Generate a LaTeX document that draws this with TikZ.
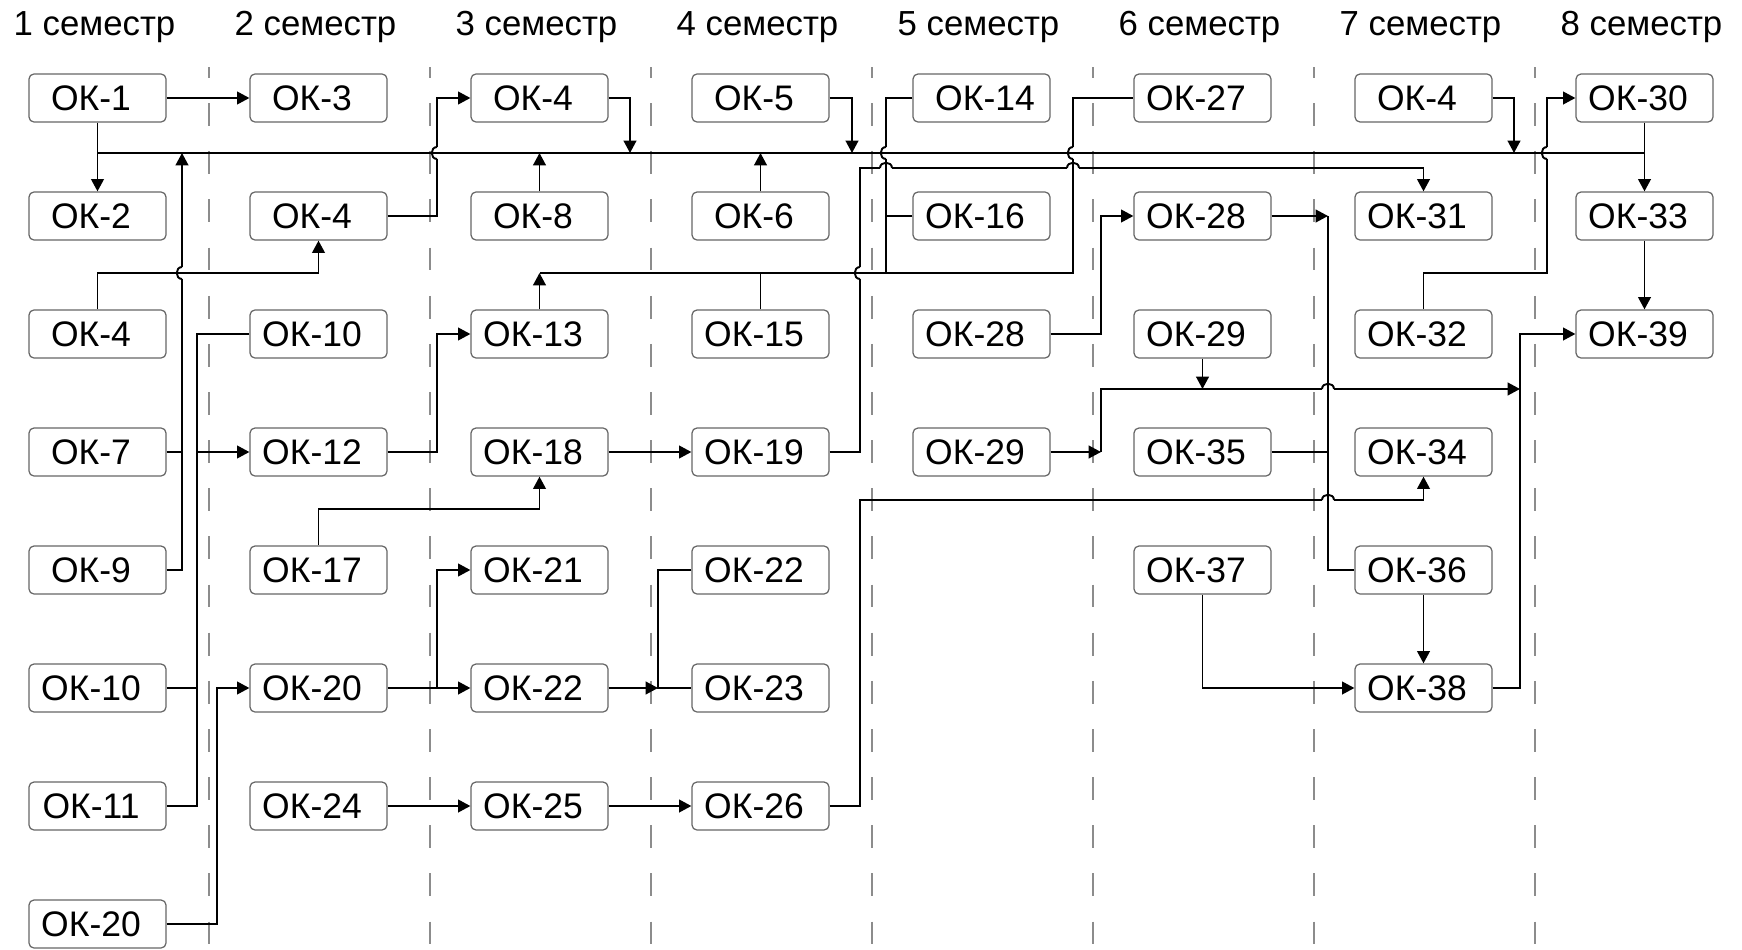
\documentclass[tikz,border=0pt]{standalone}
\usepackage{fontspec}
\setmainfont{Liberation Sans}
\usetikzlibrary{arrows.meta}

\tikzset{
  ok/.style={draw=black!60, line width=0.7pt, rounded corners=2.8pt,
    minimum width=2.74cm, minimum height=0.96cm, inner sep=0pt,
    font=\fontsize{20.2}{22}\selectfont, execute at end node={\hspace{7.4pt}}},
  link/.style={line width=1.1pt, black},
  arr/.style={link, -{Triangle[length=7pt,width=7.2pt]}},
  sep/.style={black!45, line width=1.1pt, dash pattern=on 13pt off 14.4pt, dash phase=6.8pt},
  sem/.style={font=\fontsize{19.8}{22}\selectfont, anchor=base},
}

% line jump on a vertical link (bulges to the left)
\newcommand{\vjump}[2]{%
  \draw[white, line width=2.4pt] (#1,#2-6) -- (#1,#2+6);
  \draw[link] (#1-4,#2) -- (#1+4,#2);
  \draw[link] (#1,#2+6) .. controls (#1-7,#2+6) and (#1-7,#2-6) .. (#1,#2-6);
}
% line jump on a horizontal link (bulges upwards)
\newcommand{\hjump}[2]{%
  \draw[white, line width=2.4pt] (#1-6,#2) -- (#1+6,#2);
  \draw[link] (#1,#2-4) -- (#1,#2+4);
  \draw[link] (#1-6,#2) .. controls (#1-6,#2-7) and (#1+6,#2-7) .. (#1+6,#2);
}

\begin{document}
\begin{tikzpicture}[x=0.02cm, y=-0.02cm]
\useasboundingbox (0,0) rectangle (1742,950);

% semester separators
\foreach \k in {0,...,6}
  \draw[sep] (209+221*\k,67) -- (209+221*\k,950);

% semester headings
\foreach \k in {1,...,8}
  \node[sem] (sem\k) at (97.5+221*\k-221-3,35) {\k\ семестр};

% column 1
\node[ok] (a1) at (97.5, 98) {ОК-1};
\node[ok] (a2) at (97.5,216) {ОК-2};
\node[ok] (a3) at (97.5,334) {ОК-4};
\node[ok] (a4) at (97.5,452) {ОК-7};
\node[ok] (a5) at (97.5,570) {ОК-9};
\node[ok] (a6) at (97.5,688) {ОК-10};
\node[ok] (a7) at (97.5,806) {ОК-11};
\node[ok] (a8) at (97.5,924) {ОК-20};
% column 2
\node[ok] (b1) at (318.5, 98) {ОК-3};
\node[ok] (b2) at (318.5,216) {ОК-4};
\node[ok] (b3) at (318.5,334) {ОК-10};
\node[ok] (b4) at (318.5,452) {ОК-12};
\node[ok] (b5) at (318.5,570) {ОК-17};
\node[ok] (b6) at (318.5,688) {ОК-20};
\node[ok] (b7) at (318.5,806) {ОК-24};
% column 3
\node[ok] (c1) at (539.5, 98) {ОК-4};
\node[ok] (c2) at (539.5,216) {ОК-8};
\node[ok] (c3) at (539.5,334) {ОК-13};
\node[ok] (c4) at (539.5,452) {ОК-18};
\node[ok] (c5) at (539.5,570) {ОК-21};
\node[ok] (c6) at (539.5,688) {ОК-22};
\node[ok] (c7) at (539.5,806) {ОК-25};
% column 4
\node[ok] (d1) at (760.5, 98) {ОК-5};
\node[ok] (d2) at (760.5,216) {ОК-6};
\node[ok] (d3) at (760.5,334) {ОК-15};
\node[ok] (d4) at (760.5,452) {ОК-19};
\node[ok] (d5) at (760.5,570) {ОК-22};
\node[ok] (d6) at (760.5,688) {ОК-23};
\node[ok] (d7) at (760.5,806) {ОК-26};
% column 5
\node[ok] (e1) at (981.5, 98) {\hspace{11.4pt}ОК-14};
\node[ok] (e2) at (981.5,216) {ОК-16};
\node[ok] (e3) at (981.5,334) {ОК-28};
\node[ok] (e4) at (981.5,452) {ОК-29};
% column 6
\node[ok] (f1) at (1202.5, 98) {ОК-27};
\node[ok] (f2) at (1202.5,216) {ОК-28};
\node[ok] (f3) at (1202.5,334) {ОК-29};
\node[ok] (f4) at (1202.5,452) {ОК-35};
\node[ok] (f5) at (1202.5,570) {ОК-37};
% column 7
\node[ok] (g1) at (1423.5, 98) {ОК-4};
\node[ok] (g2) at (1423.5,216) {ОК-31};
\node[ok] (g3) at (1423.5,334) {ОК-32};
\node[ok] (g4) at (1423.5,452) {ОК-34};
\node[ok] (g5) at (1423.5,570) {ОК-36};
\node[ok] (g6) at (1423.5,688) {ОК-38};
% column 8
\node[ok] (h1) at (1644.5, 98) {ОК-30};
\node[ok] (h2) at (1644.5,216) {ОК-33};
\node[ok] (h3) at (1644.5,334) {ОК-39};

% routing lanes
\coordinate (bus)  at (0,153);
\coordinate (l168) at (0,168);
\coordinate (l273) at (0,273);
\coordinate (l389) at (0,389);
\coordinate (l500) at (0,500);
\coordinate (l509) at (0,509);
\coordinate (v182) at (182,0);
\coordinate (v197) at (197,0);
\coordinate (v217) at (217,0);
\coordinate (v437) at (437,0);
\coordinate (v630) at (630,0);
\coordinate (v658) at (658,0);
\coordinate (v852) at (852,0);
\coordinate (v860) at (860,0);
\coordinate (v886) at (886,0);
\coordinate (v1073) at (1073,0);
\coordinate (v1101) at (1101,0);
\coordinate (v1328) at (1328,0);
\coordinate (v1514) at (1514,0);
\coordinate (v1520) at (1520,0);
\coordinate (v1547) at (1547,0);

% common trunk
\draw[link] (a1.south |- bus) -- (h1.south |- bus);

% semester 1 -> 2
\draw[arr] (a1.east) -- (b1.west);
\draw[arr] (a1.south) -- (a2.north);
\draw[arr] (a3.north) -- (a3.north |- l273) -| (b2.south);
\draw[link] (a4.east) -- (a4.east -| v182);
\draw[arr] (a5.east) -- (a5.east -| v182) -- (v182 |- bus);
\draw[link] (b3.west) -- (b3.west -| v197) -- (v197 |- a7.east) -- (a7.east);
\draw[link] (a6.east) -- (a6.east -| v197);
\draw[arr] (v197 |- b4.west) -- (b4.west);
\draw[arr] (a8.east) -- (a8.east -| v217) |- (b6.west);

% semester 2 -> 3
\draw[arr] (b2.east) -- (b2.east -| v437) |- (c1.west);
\draw[arr] (b4.east) -- (b4.east -| v437) |- (c3.west);
\draw[arr] (b5.north) -- (b5.north |- l509) -| (c4.south);
\draw[arr] (b6.east) -- (c6.west);
\draw[arr] (b6.east -| v437) |- (c5.west);
\draw[arr] (b7.east) -- (c7.west);

% semester 3 -> 4
\draw[arr] (c1.east) -- (c1.east -| v630) -- (v630 |- bus);
\draw[arr] (c2.north) -- (c2.north |- bus);
\draw[arr] (c3.north) -- (c3.north |- l273);
\draw[link] (c3.north |- l273) -- (v1073 |- l273) -- (v1073 |- f1.west) -- (f1.west);
\draw[link] (d3.north) -- (d3.north |- l273);
\draw[link] (e1.west) -- (e1.west -| v886) -- (v886 |- l273);
\draw[link] (e2.west) -- (e2.west -| v886);
\draw[arr] (c4.east) -- (d4.west);
\draw[arr] (c6.east) -- (v658 |- c6.east);
\draw[link] (d5.west) -- (d5.west -| v658) -- (v658 |- d6.west) -- (d6.west);
\draw[arr] (c7.east) -- (d7.west);

% semester 4 onwards
\draw[arr] (d1.east) -- (d1.east -| v852) -- (v852 |- bus);
\draw[arr] (d2.north) -- (d2.north |- bus);
\draw[arr] (d4.east) -- (d4.east -| v860) -- (v860 |- l168) -| (g2.north);
\draw[arr] (d7.east) -- (d7.east -| v860) -- (v860 |- l500) -| (g4.south);

% semester 5 -> 6
\draw[arr] (e3.east) -- (e3.east -| v1101) |- (f2.west);
\draw[arr] (e4.east) -- (e4.east -| v1101);
\draw[arr] (f3.south) -- (f3.south |- l389);
\draw[arr] (v1101 |- e4.east) -- (v1101 |- l389) -- (v1520 |- l389);

% semester 6 -> 7
\draw[arr] (f2.east) -- (f2.east -| v1328);
\draw[link] (v1328 |- f2.east) -- (v1328 |- g5.west) -- (g5.west);
\draw[link] (f4.east) -- (f4.east -| v1328);
\draw[arr] (f5.south) |- (g6.west);

% semester 7 -> 8
\draw[arr] (g1.east) -- (g1.east -| v1514) -- (v1514 |- bus);
\draw[arr] (g5.south) -- (g6.north);
\draw[arr] (g6.east) -- (g6.east -| v1520) |- (h3.west);
\draw[arr] (g3.north) -- (g3.north |- l273) -- (v1547 |- l273) |- (h1.west);
\draw[arr] (h1.south) -- (h2.north);
\draw[arr] (h2.south) -- (h3.north);

% line jumps at crossings
\vjump{182}{273}
\vjump{437}{153}
\vjump{886}{153}
\vjump{1073}{153}
\vjump{860}{273}
\vjump{1547}{153}
\hjump{886}{168}
\hjump{1073}{168}
\hjump{1328}{389}
\hjump{1328}{500}
\end{tikzpicture}
\end{document}
